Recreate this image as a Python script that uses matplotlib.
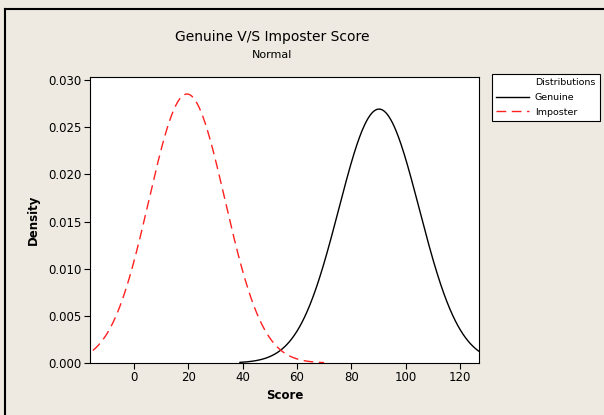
import numpy as np
from matplotlib import pyplot as plt
from matplotlib.lines import Line2D

# fitted normal distributions
names = ['Genuine', 'Imposter']
means = [90.2, 19.5]
stdevs = [14.82, 13.99]
x_from = [39, -20]
x_to = [130, 70]
colors = ['black', '#FF2020']
styles = ['-', (0, (7, 4))]

x_ticks = [0, 20, 40, 60, 80, 100, 120]
y_ticks = [0.000, 0.005, 0.010, 0.015, 0.020, 0.025, 0.030]

bg = '#EEEAE1'
W, H = 604, 415

fig = plt.figure(figsize=(W / 100, H / 100), dpi=100, facecolor=bg)
ax = fig.add_axes([90 / W, 1 - 363 / H, (479 - 90) / W, (363 - 77) / H])
ax.set_facecolor('white')

handles = [Line2D([], [], color='none')]
labels = ['Distributions']
for name, mu, sd, a, b, c, ls in zip(names, means, stdevs, x_from, x_to, colors, styles):
    x = np.linspace(a, b, 400)
    y = np.exp(-0.5 * ((x - mu) / sd) ** 2) / (sd * np.sqrt(2 * np.pi))
    line, = ax.plot(x, y, color=c, linestyle=ls, lw=1.0)
    handles.append(line)
    labels.append(name)

ax.set_xlim(-16.2, 127)
ax.set_ylim(0, 0.03032)
ax.set_xticks(x_ticks)
ax.set_yticks(y_ticks)
ax.set_yticklabels([f'{v:.3f}' for v in y_ticks])
ax.tick_params(labelsize=8.5, length=4, width=0.8, direction='out', pad=2)
for s in ax.spines.values():
    s.set_linewidth(0.8)

ax.set_xlabel('Score', fontsize=8.5, fontweight='bold', labelpad=3)
ax.set_ylabel('Density', fontsize=8.5, fontweight='bold', labelpad=6)

fig.text(272 / W, 1 - 37 / H, 'Genuine V/S Imposter Score', ha='center', va='center', fontsize=10)
fig.text(272 / W, 1 - 55 / H, 'Normal', ha='center', va='center', fontsize=8)

leg = fig.legend(handles, labels, loc='upper left', bbox_to_anchor=(492 / W, 1 - 74 / H),
                 fontsize=6.8, frameon=True, fancybox=False, framealpha=1, handlelength=3.5,
                 handletextpad=0.6, borderpad=0.45, labelspacing=0.6, borderaxespad=0)
leg.get_frame().set_edgecolor('black')
leg.get_frame().set_linewidth(0.8)

# screenshot frame edges
fig.add_artist(Line2D([5 / W, 1], [1 - 9 / H, 1 - 9 / H], color='black', lw=1.5))
fig.add_artist(Line2D([5 / W, 5 / W], [0, 1 - 9 / H], color='black', lw=1.5))

fig.savefig('out.png', dpi=100, facecolor=bg)
